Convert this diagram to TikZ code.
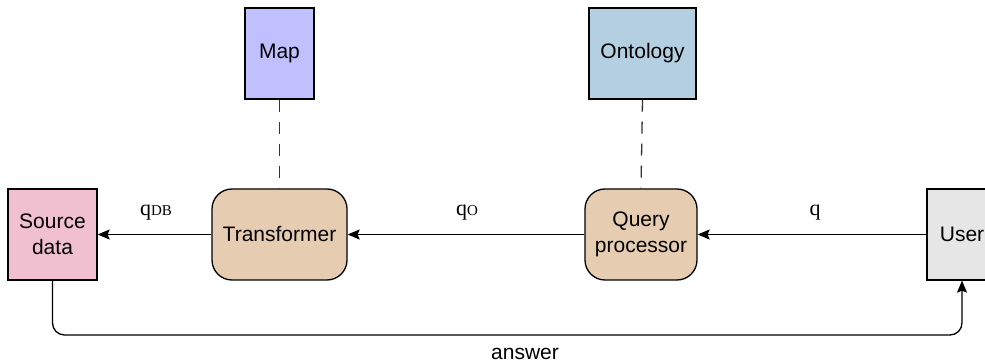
\documentclass[tikz,border=0pt]{standalone}
\usepackage{fontspec}
\setmainfont{Liberation Sans}
\newfontfamily\labelfont{Liberation Serif}
\usepackage{xcolor}
\usetikzlibrary{arrows.meta, positioning}

\definecolor{srcpink}{RGB}{240,192,208}
\definecolor{mappurple}{RGB}{192,192,255}
\definecolor{ontoblue}{RGB}{180,208,224}
\definecolor{proctan}{RGB}{230,205,178}
\definecolor{usergray}{RGB}{230,230,230}

\begin{document}
\begin{tikzpicture}[x=1pt, y=-1pt, font=\fontsize{21}{26}\selectfont, line width=1.3pt]
            \useasboundingbox (0,0) rectangle (985,363);
            \clip (0,0) rectangle (985,363);

            % Define block styles
            \tikzstyle{store} = [draw, rectangle, minimum height=91pt, align=center, inner sep=2pt]
            \tikzstyle{proc} = [draw, rectangle, rounded corners=20pt, minimum height=91pt, fill=proctan, align=center, inner sep=2pt]
            \tikzstyle{flow} = [-{Stealth[length=12pt, width=10pt, inset=2pt]}]
            \tikzstyle{link} = [draw=black!80, dash pattern=on 12pt off 10pt]
            \tikzstyle{qlabel} = [font=\labelfont\fontsize{22}{26}\selectfont]

            % Nodes
            \node[store, fill=srcpink, minimum width=89pt] at (52.5,234.5) (src) {Source\\data};
            \node[proc, minimum width=135pt] at (279.5,234.5) (trans) {Transformer};
            \node[proc, minimum width=112pt] at (641,234.5) (qp) {Query\\processor};
            \node[store, fill=usergray, minimum width=70pt] at (962,234.5) (user) {User};
            \node[store, fill=mappurple, minimum width=69pt] at (279.5,53.5) (map) {Map};
            \node[store, fill=ontoblue, minimum width=107pt] at (642.5,53.5) (onto) {Ontology};

            % Labels
            \node[qlabel] at (815,213) (qin) {q};
            \node[qlabel] at (467,213) (qo) {q\raisebox{0pt}{\fontsize{15}{16}\selectfont O}};
            \node[qlabel] at (156,213) (qdb) {q\raisebox{0pt}{\fontsize{15}{16}\selectfont DB}};
            \node at (525,354) (ans) {answer};
            \coordinate (turn) at (52.5,335);

            \draw[flow] (user.west) -- (qp.east);
            \draw[flow] (qp.west) -- (trans.east);
            \draw[flow] (trans.west) -- (src.east);
            \draw[flow, rounded corners=12pt] (src.south) -- (turn) -| (user.south);
            \draw[link] (map.south) -- (trans.north);
            \draw[link] (onto.south) -- (qp.north);
        \end{tikzpicture}
\end{document}
